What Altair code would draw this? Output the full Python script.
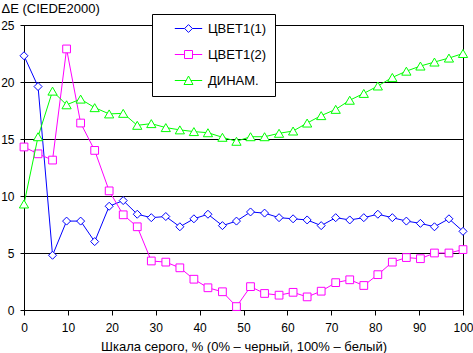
import altair as alt
import pandas as pd

# Grey-scale positions (%)
x_vals = [0, 3.2, 6.5, 9.7, 12.9, 16.1, 19.4, 22.6, 25.8, 29.0, 32.3, 35.5, 38.7,
          41.9, 45.2, 48.4, 51.6, 54.8, 58.1, 61.3, 64.5, 67.7, 71.0, 74.2, 77.4,
          80.6, 83.9, 87.1, 90.3, 93.5, 96.8, 100]

tsvet1_1 = [22.3, 19.6, 4.8, 7.8, 7.8, 6.0, 9.1, 9.6, 8.4, 8.1,
            8.2, 7.3, 8.0, 8.4, 7.4, 7.8, 8.6, 8.5, 8.1, 8.0,
            7.9, 7.4, 8.1, 7.9, 8.1, 8.4, 8.1, 7.8, 7.6, 7.3,
            8.0, 6.9]
tsvet1_2 = [14.3, 13.7, 13.15, 22.9, 16.4, 14.0, 10.45, 8.35, 7.3, 4.3,
            4.2, 3.7, 2.7, 1.95, 1.6, 0.3, 2.05, 1.45, 1.3, 1.55,
            1.15, 1.65, 2.4, 2.65, 2.15, 3.1, 4.2, 4.6, 4.5, 5.0,
            5.0, 5.3]
dinam = [9.3, 15.2, 19.2, 18.0, 18.5, 17.75, 17.2, 17.25, 16.2, 16.35,
         16.0, 15.8, 15.65, 15.55, 15.15, 14.8, 15.2, 15.2, 15.5, 15.7,
         16.4, 17.05, 17.6, 18.4, 19.0, 19.65, 20.4, 20.95, 21.4, 21.75,
         22.1, 22.5]

series_names = ["ЦВЕТ1(1)", "ЦВЕТ1(2)", "ДИНАМ."]
series_colors = ["#0000FF", "#FF00FF", "#00FF00"]
series_shapes = ["diamond", "square", "triangle-up"]
series_sizes = [64, 60, 85]
legend_paths = [
    "M-2.74,0H-0.78M0.78,0H2.74M-0.78,0L0,-0.78L0.78,0L0,0.78Z",
    "M-2.74,0H-0.8M0.8,0H2.74M-0.8,-0.8H0.8V0.8H-0.8Z",
    "M-2.74,0H-0.48M0.48,0H2.74M0,-0.9L0.9,0.8L-0.9,0.8Z",
]
x_ticks = [0, 10, 20, 30, 40, 50, 60, 70, 80, 90, 100]
y_ticks = [0, 5, 10, 15, 20, 25]

x_title = "Шкала серого, % (0% – черный, 100% – белый)"
y_title = "ΔE (CIEDE2000)"

rows = []
for name, vals in zip(series_names, [tsvet1_1, tsvet1_2, dinam]):
    for i, (xv, yv) in enumerate(zip(x_vals, vals)):
        rows.append({"x": xv, "y": yv, "series": name, "order": i})
df = pd.DataFrame(rows)

FONT = "Liberation Sans"

X = alt.X("x:Q", scale=alt.Scale(domain=[0, 100], nice=False, zero=False),
          axis=alt.Axis(values=x_ticks, title=x_title, grid=False, tickSize=5,
                        labelPadding=7, titleY=40, titleBaseline="alphabetic",
                        labelFlush=False))
Y = alt.Y("y:Q", scale=alt.Scale(domain=[0, 25], nice=False),
          axis=alt.Axis(values=y_ticks, title=y_title, grid=True, gridColor="black",
                        gridWidth=1, tickSize=4, labelPadding=6, titleAngle=0,
                        titleAlign="left", titleX=-23, titleY=-13,
                        titleBaseline="alphabetic"))
color_scale = alt.Scale(domain=series_names, range=series_colors)

leg = dict(orient="none", legendX=128, legendY=-11, title=None,
           fillColor="white", strokeColor="black", padding=8,
           symbolOffset=22, labelOffset=13, rowPadding=12, symbolSize=100,
           symbolStrokeWidth=1, labelFont=FONT, labelFontSize=13,
           labelColor="black",
           labelExpr="datum.label + '\u00a0\u00a0\u00a0'")

color_enc = alt.Color("series:N", scale=color_scale, legend=alt.Legend(**leg))

layers = []
for name, shp, sz in zip(series_names, series_shapes, series_sizes):
    sub = alt.Chart(df).transform_filter(alt.datum.series == name)
    line = sub.mark_line(strokeWidth=1).encode(
        x=X, y=Y, order="order:Q", color=color_enc)
    pts = sub.mark_point(shape=shp, size=sz, filled=False, fill="white",
                         fillOpacity=1, opacity=1, strokeWidth=1).encode(
        x=X, y=Y, color=color_enc)
    layers += [line, pts]

legend_layer = alt.Chart(df).transform_filter("false").mark_point(
    filled=False, strokeWidth=1).encode(
    x=X, y=Y,
    color=color_enc,
    shape=alt.Shape("series:N", scale=alt.Scale(domain=series_names, range=legend_paths),
                    legend=alt.Legend(**leg)))
layers.append(legend_layer)

chart = alt.layer(*layers).properties(
    width=439, height=285,
    autosize=alt.AutoSizeParams(type="none"),
    padding={"left": 24, "top": 25, "right": 10, "bottom": 43},
    background="white",
).configure_view(stroke="black", strokeWidth=1).configure_axis(
    labelFont=FONT, labelFontSize=12, labelColor="black",
    titleFont=FONT, titleFontSize=13, titleFontWeight="normal", titleColor="black",
    domainColor="black", tickColor="black", domainWidth=1, tickWidth=1,
)

chart.save("out.html", embed_options={"renderer": "svg", "actions": False})
